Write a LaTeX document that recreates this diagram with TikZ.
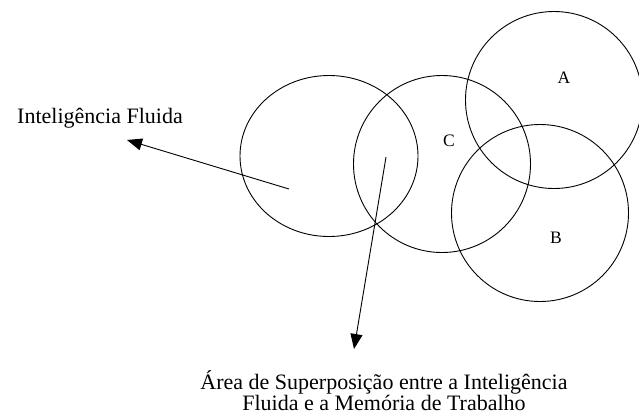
\documentclass[tikz,border=0pt]{standalone}
\usepackage{fontspec}
\setmainfont{Liberation Serif}
\usetikzlibrary{arrows.meta}

\begin{document}
\begin{tikzpicture}[x=1pt,y=-1pt,line width=0.9pt,
    pointer/.style={-{Triangle[length=15pt,width=12pt]}},
    bigtext/.style={font=\fontsize{22}{21}\selectfont},
    lettertext/.style={font=\fontsize{17.5}{20}\selectfont}]

\def\rad{88.5}
\useasboundingbox (0,0) rectangle (639,416);

% Inteligencia Fluida (a bit flatter than the others)
\draw (329,156) ellipse [x radius=89, y radius=80.5];
% C, A and B
\foreach \cx/\cy in {442/164, 554/100, 540/213} {%
   \draw (\cx,\cy) circle [radius=\rad];
};

\node[lettertext] (labC) at (449,141) {C};
\node[lettertext] (labA) at (564,78) {A};
\node[lettertext] (labB) at (556,238) {B};

\node[bigtext,anchor=base] (fluid) at (100,123.5) {Inteligência Fluida};
% base of a two line node is the last line
\node[bigtext,anchor=base,align=center] (overlap) at (384,410)
  {Área de Superposição entre a Inteligência\\Fluida e a Memória de Trabalho};

\coordinate (fluidFrom) at (289,189);
\coordinate (fluidTo) at (127,140);
\coordinate (overlapFrom) at (386,157);
\coordinate (overlapTo) at (354,349);
\draw[pointer] (fluidFrom) -- (fluidTo);
\draw[pointer] (overlapFrom) -- (overlapTo);
\end{tikzpicture}
\end{document}
